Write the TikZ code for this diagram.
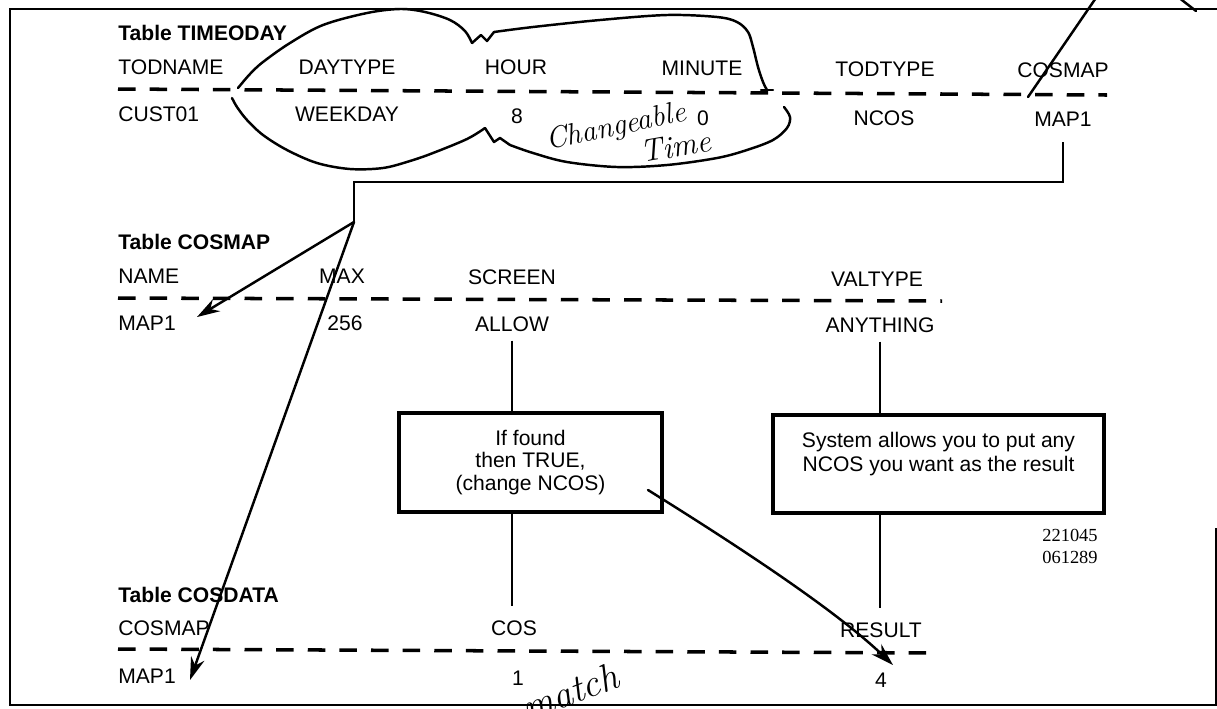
\documentclass[tikz,border=0pt]{standalone}
\usepackage{fontspec}
\newfontfamily\helv{Liberation Sans}
\newfontfamily\tnum{Liberation Serif}
\usetikzlibrary{arrows.meta}
\begin{document}
\begin{tikzpicture}[x=0.02cm, y=-0.02cm,
  every node/.style={inner sep=0pt, font=\helv\fontsize{12}{14}\selectfont},
  tabletitle/.style={anchor=west, font=\helv\bfseries\fontsize{12}{14}\selectfont},
  firstcol/.style={anchor=west},
  divider/.style={line width=2pt, dash pattern=on 10pt off 8pt},
  border/.style={line width=1.6pt},
  link/.style={line width=1.1pt},
  infobox/.style={draw, line width=2pt, align=center, font=\helv\fontsize{12}{13}\selectfont},
  hand/.style={line width=1.4pt, line cap=round, line join=round},
  pointer/.style={hand, -{Stealth[length=13pt, width=8pt]}},
  script/.style={anchor=base west, font=\rmfamily\itshape\fontsize{17}{17}\selectfont},
  fignum/.style={font=\tnum\fontsize{10.5}{12}\selectfont},
]
\useasboundingbox (0,0) rectangle (1217,708);

% outer frame
\draw[border] (1217,9) -- (10,9) -- (10,705) -- (1216,705) -- (1216,528);

% ---- Table TIMEODAY ----
\node[tabletitle] (ttod) at (118,33) {Table TIMEODAY};
\node[firstcol] (todname) at (118,67) {TODNAME};
\node (daytype) at (347,67) {DAYTYPE};
\node (hour) at (516,67) {HOUR};
\node (minute) at (702,68) {MINUTE};
\node (todtype) at (885,69) {TODTYPE};
\node (cosmapcol) at (1063,70) {COSMAP};
\draw[divider] (118,89) -- (1107,95);
\node[firstcol] (cust) at (118,114) {CUST01};
\node (weekday) at (347,114) {WEEKDAY};
\node (eight) at (517,116) {8};
\node (zero) at (703,118) {0};
\node (ncos) at (884,118) {NCOS};
\node (map1top) at (1063,119) {MAP1};

% ---- Table COSMAP ----
\node[tabletitle] (tcosmap) at (118,242) {Table COSMAP};
\node[firstcol] (name) at (118,276) {NAME};
\node (max) at (342,276) {MAX};
\node (screen) at (512,277) {SCREEN};
\node (valtype) at (877,279) {VALTYPE};
\draw[divider] (118,298) -- (942,301);
\node[firstcol] (map1mid) at (118,323) {MAP1};
\node (twofivesix) at (345,323) {256};
\node (allow) at (512,324) {ALLOW};
\node (anything) at (880,325) {ANYTHING};

% ---- Table COSDATA ----
\node[tabletitle] (tcosdata) at (118,595) {Table COSDATA};
\node[firstcol] (cosmapkey) at (118,628) {COSMAP};
\node (cos) at (514,628) {COS};
\node (result) at (881,630) {RESULT};
\draw[divider] (118,649) -- (940,653);
\node[firstcol] (map1low) at (118,676) {MAP1};
\node (one) at (518,678) {1};
\node (four) at (881,680) {4};

% ---- explanation boxes ----
\node[infobox, minimum width=5.26cm, minimum height=1.98cm] (screenbox) at (530.5,462.5)
  {If found\\then TRUE,\\(change NCOS)};
\node[infobox, minimum width=6.62cm, minimum height=1.96cm,
      font=\helv\fontsize{12}{13.6}\selectfont] (valbox) at (938.5,464)
  {System allows you to put any\\NCOS you want as the result\\\mbox{}};

\draw[link, shorten <=5pt] (allow.south) -- (allow.south |- screenbox.north);
\draw[link, shorten >=8pt] (screenbox.south -| allow) -- (allow |- cos.north);
\draw[link, shorten <=5pt] (anything.south) -- (anything.south |- valbox.north);
\draw[link, shorten >=8pt] (valbox.south -| anything) -- (anything |- result.north);

\node[fignum] (code1) at (1070,535) {221045};
\node[fignum] (code2) at (1070,557) {061289};

% ---- key lookup from TIMEODAY.COSMAP ----
\coordinate (elbow) at (354,182);
\coordinate (fork) at (354,222);
\coordinate (tipA) at (197,317);
\coordinate (tipB) at (190,680);
\draw[link, shorten <=9pt] (map1top.south) |- (elbow) -- (fork);
\draw[pointer] (fork) -- (tipA);
\draw[pointer] (fork) -- (tipB);

% ---- pen annotations ----
\coordinate (penA) at (1028,97);
\coordinate (penB) at (1100,-8);
\coordinate (penC) at (1178,-3);
\coordinate (penD) at (1196,11);
\draw[hand] (penA) -- (penB);
\draw[hand] (penC) -- (penD);

% loop round the time columns
\draw[hand] plot[smooth, tension=0.55] coordinates {(238,88) (250,74) (263,62) (290,43) (323,25) (367,13) (400,9) (425,12) (450,20) (465,31) (472,43)};
\draw[hand] (472,43) -- (481,35) -- (487,41) -- (494,32);
\draw[hand] plot[smooth, tension=0.55] coordinates {(494,32) (533,27) (600,20) (667,15) (717,17) (737,22) (748,32) (753,47) (758,67) (763,82) (767,90)};
\draw[hand] (761,90) -- (773,90);
\draw[hand] plot[smooth, tension=0.55] coordinates {(784,107) (790,117) (787,128) (773,140) (747,150) (717,158) (667,165) (617,167) (567,162) (533,153) (510,145)};
\draw[hand] (510,145) -- (500,138) -- (494,142) -- (485,128);
\draw[hand] plot[smooth, tension=0.55] coordinates {(485,128) (467,139) (433,153) (410,161) (383,168) (350,169) (317,163) (287,150) (263,135) (247,120) (237,107) (232,98)};

\node[script, rotate=12] (chg) at (548,150) {Changeable};
\node[script, rotate=10, font=\rmfamily\itshape\fontsize{18}{18}\selectfont] (tme) at (642,163) {Time};
\node[script, rotate=21, font=\rmfamily\itshape\fontsize{22}{22}\selectfont] (mtch) at (528,722) {match};

\coordinate (noteStart) at (648,490);
\coordinate (tipC) at (893,665);
\draw[pointer] (noteStart) .. controls (720,535) and (830,605) .. (tipC);
\end{tikzpicture}
\end{document}
